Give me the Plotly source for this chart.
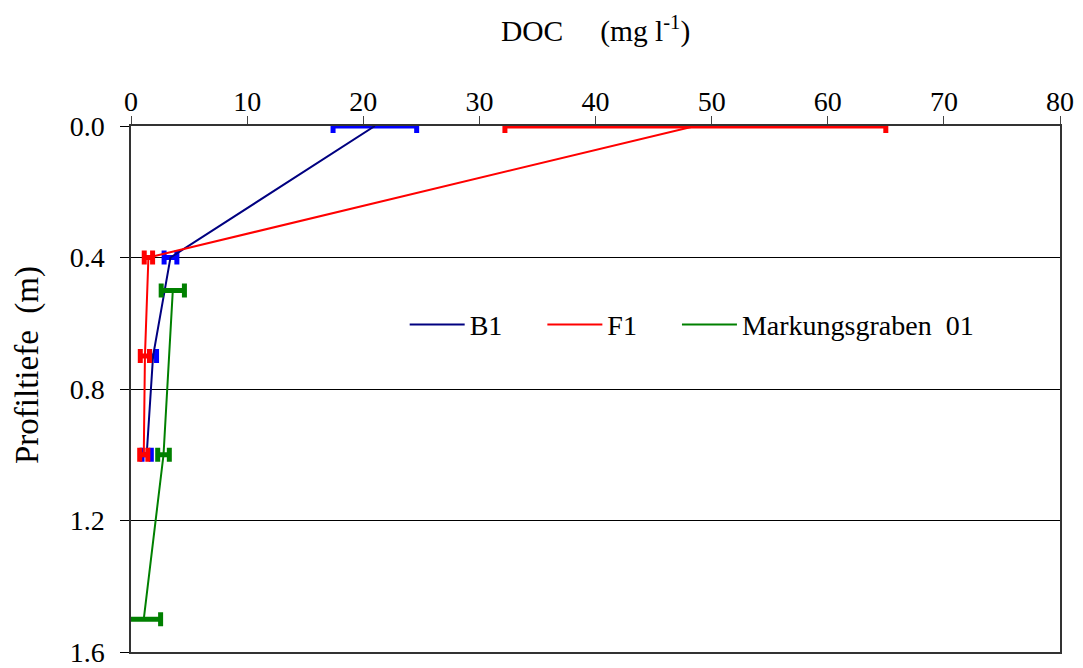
import plotly.graph_objects as go

# Data
b1_depth = [0.0, 0.4, 0.7, 1.0]
b1_doc = [21.0, 3.4, 1.9, 1.35]
b1_err = [3.6, 0.55, 0.3, 0.4]

f1_depth = [0.0, 0.4, 0.7, 1.0]
f1_doc = [48.6, 1.5, 1.2, 1.1]
f1_err = [16.4, 0.36, 0.4, 0.35]

mg_depth = [0.5, 1.0, 1.5]
mg_doc = [3.6, 2.8, 1.1]
mg_err = [1.0, 0.5, 1.45]

x_ticks = [0, 10, 20, 30, 40, 50, 60, 70, 80]
y_ticks = [0.0, 0.4, 0.8, 1.2, 1.6]

FONT = "Liberation Serif, Times New Roman, serif"
FS = 28
NB = "\u00a0"

fig = go.Figure()

series = [
    ("B1" + NB * 5, b1_doc, b1_depth, b1_err, "#000080", "#0000FF"),
    ("F1" + NB * 5, f1_doc, f1_depth, f1_err, "#FF0000", "#FF0000"),
    ("Markungsgraben" + NB * 2 + "01", mg_doc, mg_depth, mg_err, "#008000", "#008000"),
]
for name, x, y, e, lc, ec in series:
    fig.add_trace(go.Scatter(
        x=x, y=y, mode="lines", name=name,
        line=dict(color=lc, width=2),
        error_x=dict(type="data", array=e, visible=True, color=ec,
                     thickness=5, width=7),
        cliponaxis=False,
    ))

fig.add_annotation(
    text="DOC" + NB * 5 + "(mg l<sup>-1</sup>)",
    xref="paper", yref="paper", x=0.5, y=1, yshift=97, xanchor="center",
    yanchor="middle", showarrow=False, font=dict(family=FONT, size=29.5, color="black"),
)
fig.add_annotation(
    text="Profiltiefe" + NB * 2 + "(m)", textangle=-90,
    xref="paper", yref="paper", x=(27 - 131) / 929, y=(652 - 365) / 526,
    xanchor="center", yanchor="middle", showarrow=False,
    font=dict(family=FONT, size=33, color="black"),
)

# page body has an 8px default margin, so the figure is sized to fit the window
fig.update_layout(
    width=1075, height=660,
    margin=dict(l=123, r=23, t=118, b=16),
    paper_bgcolor="white", plot_bgcolor="white",
    font=dict(family=FONT, size=FS, color="black"),
    showlegend=True,
    legend=dict(orientation="h", x=0.2946, y=0.622, xanchor="left", yanchor="middle",
                bgcolor="rgba(0,0,0,0)", font=dict(family=FONT, size=FS),
                itemwidth=55),
    xaxis=dict(side="top", range=[0, 80], tickvals=x_ticks, automargin=False,
               ticks="outside", ticklen=8, tickcolor="#444", ticklabelstandoff=-6,
               showline=True, linecolor="#333", linewidth=1.5, mirror=True,
               showgrid=False, zeroline=False,
               tickfont=dict(family=FONT, size=FS)),
    yaxis=dict(range=[1.6, 0], tickvals=y_ticks, tickformat=".1f", automargin=False,
               ticks="outside", ticklen=9, tickcolor="black", ticklabelstandoff=10,
               showline=True, linecolor="#333", linewidth=1.5, mirror=True,
               showgrid=True, gridcolor="black", gridwidth=1, zeroline=False,
               tickfont=dict(family=FONT, size=FS)),
)

fig.write_html("out.html")
